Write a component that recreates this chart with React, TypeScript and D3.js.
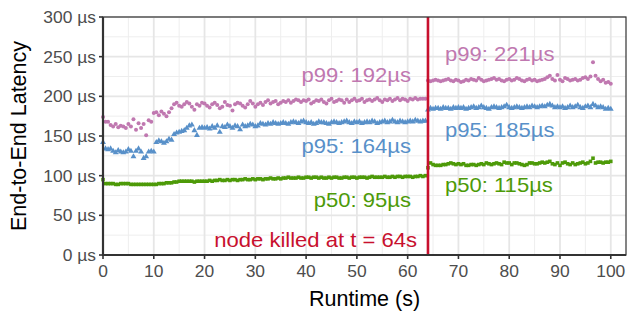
import React from 'react';
import * as d3 from 'd3';

// one sample every half second, 0 .. 100 s
const step = 0.5;
const killedAt = 64;

const p50 = [
  95, 90, 90, 90, 90, 89, 89, 90, 90, 90,
  90, 89, 89, 89, 89, 89, 89, 89, 89, 89,
  89, 89, 90, 90, 90, 91, 91, 91, 92, 92,
  93, 93, 93, 93, 93, 93, 92, 93, 93, 93,
  93, 93, 94, 93, 94, 94, 95, 94, 94, 95,
  94, 95, 95, 94, 95, 95, 96, 95, 95, 96,
  95, 96, 96, 95, 96, 96, 97, 96, 96, 97,
  96, 97, 97, 98, 97, 97, 97, 98, 97, 97,
  98, 98, 97, 98, 98, 97, 98, 97, 97, 98,
  97, 98, 98, 97, 97, 98, 98, 97, 98, 98,
  97, 98, 98, 98, 97, 98, 99, 98, 98, 98,
  98, 99, 98, 98, 99, 98, 99, 99, 98, 99,
  99, 99, 98, 99, 99, 100, 99, 100, 110, 116,
  114, 113, 113, 113, 114, 114, 115, 116, 115, 114,
  115, 114, 115, 113, 113, 114, 114, 113, 114, 115,
  114, 116, 115, 114, 115, 116, 115, 114, 117, 116,
  116, 114, 116, 116, 115, 114, 113, 114, 116, 116,
  115, 115, 116, 117, 116, 117, 118, 115, 114, 116,
  113, 116, 117, 115, 114, 116, 114, 115, 116, 117,
  115, 116, 118, 122, 116, 117, 117, 116, 117, 117,
  118,
];

const p95 = [
  142, 134, 133, 134, 131, 129, 132, 130, 129, 130,
  133, 131, 124, 131, 134, 130, 122, 124, 130, 131,
  130, 142, 144, 143, 141, 143, 146, 145, 152, 154,
  155, 156, 157, 160, 163, 164, 157, 151, 160, 161,
  160, 161, 159, 162, 160, 163, 155, 162, 161, 164,
  162, 160, 163, 162, 158, 164, 162, 163, 165, 164,
  162, 163, 166, 165, 164, 166, 165, 167, 166, 165,
  166, 167, 166, 165, 167, 168, 167, 166, 168, 169,
  167, 166, 167, 165, 166, 168, 167, 167, 166, 165,
  167, 168, 167, 166, 167, 168, 169, 167, 166, 168,
  167, 168, 166, 167, 168, 167, 169, 168, 166, 167,
  168, 169, 167, 168, 170, 168, 167, 169, 168, 167,
  168, 169, 168, 170, 169, 168, 169, 169, 183, 185,
  184, 185, 185, 184, 186, 185, 185, 184, 186, 185,
  186, 185, 186, 184, 185, 186, 187, 185, 186, 188,
  186, 185, 184, 186, 187, 186, 185, 186, 187, 189,
  186, 185, 186, 187, 186, 185, 186, 187, 186, 188,
  187, 186, 187, 188, 187, 189, 190, 188, 186, 187,
  186, 187, 185, 186, 188, 186, 187, 189, 186, 185,
  187, 188, 186, 190, 188, 186, 187, 186, 184, 185,
  184,
];

const p99 = [
  174, 168, 168, 164, 162, 165, 161, 163, 162, 160,
  165, 162, 171, 158, 166, 160, 165, 151, 170, 168,
  179, 180, 176, 181, 178, 175, 180, 185, 190, 192,
  188, 187, 190, 193, 191, 187, 183, 190, 188, 192,
  191, 188, 186, 190, 192, 189, 185, 187, 193, 189,
  188, 182, 190, 192, 191, 188, 186, 190, 194, 191,
  187, 190, 192, 189, 193, 195, 191, 193, 194, 190,
  192, 194, 193, 195, 192, 194, 196, 195, 193, 195,
  194, 196, 191, 193, 195, 194, 196, 193, 191, 195,
  197, 193, 194, 196, 195, 192, 196, 193, 195, 197,
  194, 195, 197, 193, 195, 196, 194, 196, 198, 195,
  193, 196, 195, 197, 194, 196, 198, 195, 197, 196,
  194, 197, 196, 198, 196, 197, 197, 197, 220, 219,
  220, 221, 220, 219, 220, 221, 222, 220, 219, 221,
  220, 218, 219, 221, 220, 222, 221, 220, 223, 221,
  219, 220, 221, 222, 223, 221, 222, 220, 219, 221,
  222, 220, 221, 223, 222, 220, 219, 221, 222, 220,
  221, 219, 220, 221, 222, 224, 226, 222, 220, 227,
  221, 219, 223, 222, 220, 221, 222, 220, 221, 223,
  224, 222, 225, 243, 226, 222, 219, 221, 217, 218,
  216,
];

const xTicks = [0, 10, 20, 30, 40, 50, 60, 70, 80, 90, 100];
const yTicks = [0, 50, 100, 150, 200, 250, 300];

const labelsBefore = ['p99: 192µs', 'p95: 164µs', 'p50: 95µs'];
const labelsAfter = ['p99: 221µs', 'p95: 185µs', 'p50: 115µs'];
const killedLabel = 'node killed at t = 64s';

const W = 627;
const H = 311;
const m = { left: 103, right: 1, top: 17, bottom: 56 };

const PINK = '#c078b0';
const BLUE = '#5890c9';
const GREEN = '#4d9a08';
const RED = '#c8102e';

const FONT = '"Liberation Sans", Arial, Helvetica, sans-serif';

// text in the picture runs a little wider than Arial, so stretch it a bit
function Txt(props: any) {
  const { x, y, sx = 1, anchor = 'start', size, fill, children, dy } = props;
  return (
    <text
      transform={`translate(${x},${y}) scale(${sx},1)`}
      textAnchor={anchor}
      fontSize={size}
      fill={fill}
      dy={dy}
      fontFamily={FONT}
    >
      {children}
    </text>
  );
}

export default function App() {
  const x = d3.scaleLinear().domain([0, 103]).range([m.left, W - m.right]);
  const y = d3.scaleLinear().domain([0, 300]).range([H - m.bottom, m.top]);

  const x0 = x.range()[0];
  const x1 = x.range()[1];
  const yb = y.range()[0];
  const yt = y.range()[1];

  const minorX = d3.range(5, 103, 10);
  const minorY = d3.range(25, 300, 50);

  const tri = d3.symbol(d3.symbolTriangle, 15)()!;
  const sq = d3.symbol(d3.symbolSquare, 13)()!;

  return (
    <svg
      width={W}
      height={H}
      style={{ position: 'absolute', left: 0, top: 0, display: 'block', background: '#fff' }}
    >
      {/* grid */}
      <g>
        {minorX.map((d) => (
          <line key={'mx' + d} x1={x(d)} x2={x(d)} y1={yt} y2={yb} stroke="#eeeeee" strokeWidth={1} />
        ))}
        {minorY.map((d) => (
          <line key={'my' + d} x1={x0} x2={x1} y1={y(d)} y2={y(d)} stroke="#eeeeee" strokeWidth={1} />
        ))}
        {xTicks.map((d) => (
          <line key={'gx' + d} x1={x(d)} x2={x(d)} y1={yt} y2={yb} stroke="#e6e6e6" strokeWidth={1.8} />
        ))}
        {yTicks.map((d) => (
          <line key={'gy' + d} x1={x0} x2={x1} y1={y(d)} y2={y(d)} stroke="#e6e6e6" strokeWidth={1.8} />
        ))}
      </g>

      {/* points */}
      <g fill={PINK}>
        {p99.map((v, i) => (
          <circle key={i} cx={x(i * step)} cy={y(v)} r={2} />
        ))}
      </g>
      <g fill={BLUE}>
        {p95.map((v, i) => (
          <path key={i} d={tri} transform={`translate(${x(i * step)},${y(v)})`} />
        ))}
      </g>
      <g fill={GREEN}>
        {p50.map((v, i) => (
          <path key={i} d={sq} transform={`translate(${x(i * step)},${y(v)})`} />
        ))}
      </g>

      {/* kill marker */}
      <line x1={x(killedAt)} x2={x(killedAt)} y1={yt} y2={yb} stroke={RED} strokeWidth={2.6} />

      {/* panel border + axes */}
      <rect x={x0} y={yt} width={x1 - x0} height={yb - yt} fill="none" stroke="#333" strokeWidth={1.2} />
      <line x1={x0} x2={x0} y1={yt} y2={yb + 0.5} stroke="#333" strokeWidth={2.2} />
      <line x1={x0 - 1} x2={x1} y1={yb} y2={yb} stroke="#333" strokeWidth={2.2} />

      {yTicks.map((d) => (
        <g key={'ty' + d}>
          <line x1={x0 - 4} x2={x0} y1={y(d)} y2={y(d)} stroke="#333" strokeWidth={1.6} />
          <Txt x={x0 - 7} y={y(d)} dy="0.36em" sx={1.05} anchor="end" size={16.6} fill="#4d4d4d">
            {d + ' µs'}
          </Txt>
        </g>
      ))}
      {xTicks.map((d) => (
        <g key={'tx' + d}>
          <line x1={x(d)} x2={x(d)} y1={yb} y2={yb + 4} stroke="#333" strokeWidth={1.6} />
          <Txt x={x(d)} y={yb + 22} sx={1.05} anchor="middle" size={16.6} fill="#4d4d4d">
            {d}
          </Txt>
        </g>
      ))}

      {/* axis titles */}
      <Txt x={(x0 + x1) / 2} y={306} anchor="middle" size={21.5} fill="#000">
        Runtime (s)
      </Txt>
      <text
        transform={`translate(26,${(yt + yb) / 2}) rotate(-90)`}
        textAnchor="middle"
        fontSize={21.5}
        fontFamily={FONT}
        fill="#000"
      >
        End-to-End Latency
      </text>

      {/* annotations */}
      <Txt x={411} y={82} sx={1.05} anchor="end" size={21} fill={PINK}>{labelsBefore[0]}</Txt>
      <Txt x={411} y={153} sx={1.05} anchor="end" size={21} fill={BLUE}>{labelsBefore[1]}</Txt>
      <Txt x={411} y={207} sx={1.05} anchor="end" size={21} fill={GREEN}>{labelsBefore[2]}</Txt>
      <Txt x={417} y={247} sx={1.05} anchor="end" size={21} fill={RED}>{killedLabel}</Txt>
      <Txt x={445} y={61} sx={1.05} size={21} fill={PINK}>{labelsAfter[0]}</Txt>
      <Txt x={445} y={137} sx={1.05} size={21} fill={BLUE}>{labelsAfter[1]}</Txt>
      <Txt x={445} y={192} sx={1.05} size={21} fill={GREEN}>{labelsAfter[2]}</Txt>
    </svg>
  );
}
